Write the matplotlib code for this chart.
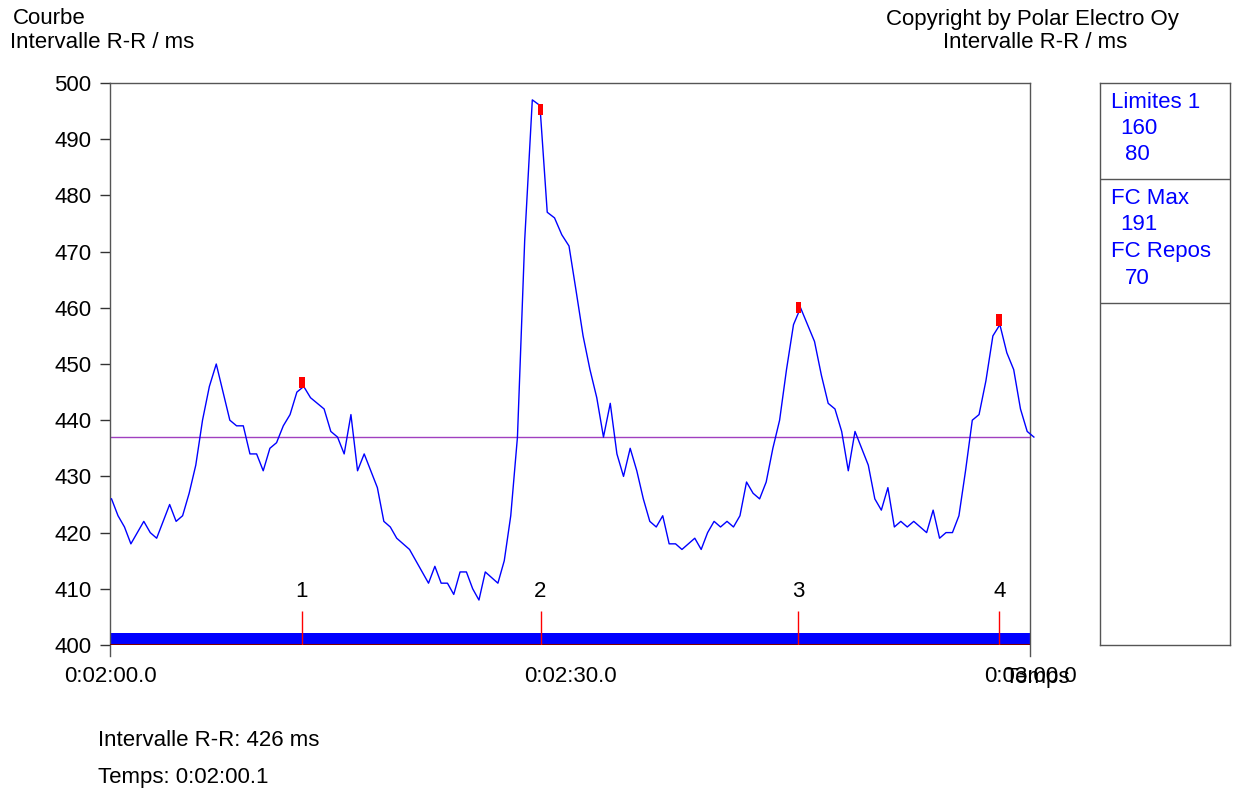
import numpy as np
import matplotlib
matplotlib.use("Agg")
import matplotlib.pyplot as plt
from matplotlib.ticker import FuncFormatter

plt.rcParams['font.family'] = ['Liberation Sans', 'DejaVu Sans']
FS = 16

# R-R intervals (ms), one per beat
rr_ms = [426, 423, 421, 418, 420, 422, 420, 419, 422, 425,
         422, 423, 427, 432, 440, 446, 450, 445, 440, 439,
         439, 434, 434, 431, 435, 436, 439, 441, 445, 446,
         444, 443, 442, 438, 437, 434, 441, 431, 434, 431,
         428, 422, 421, 419, 418, 417, 415, 413, 411, 414,
         411, 411, 409, 413, 413, 410, 408, 413, 412, 411,
         415, 423, 437, 472, 497, 496, 477, 476, 473, 471,
         463, 455, 449, 444, 437, 443, 434, 430, 435, 431,
         426, 422, 421, 423, 418, 418, 417, 418, 419, 417,
         420, 422, 421, 422, 421, 423, 429, 427, 426, 429,
         435, 440, 449, 457, 460, 457, 454, 448, 443, 442,
         438, 431, 438, 435, 432, 426, 424, 428, 421, 422,
         421, 422, 421, 420, 424, 419, 420, 420, 423, 431,
         440, 441, 447, 455, 457, 452, 449, 442, 438, 437]
start_s = 120.1          # time of first beat (0:02:00.1)
lap_times = [132.5, 148.08, 164.9, 178.0]
lap_labels = ['1', '2', '3', '4']
ref_line = 437
x_range = (120, 180)
x_ticks = [120, 150, 180]
y_range = (400, 500)
panel_lines = [('Limites 1', 0), ('160', 1), ('80', 2)]
panel_lines2 = [('FC Max', 0), ('191', 1), ('FC Repos', 0), ('70', 2)]

rr = np.array(rr_ms, dtype=float)
t = start_s + np.concatenate([[0], np.cumsum(rr[1:])]) / 1000.0


def fmt_time(s, pos=None):
    h = int(s // 3600)
    m = int(s % 3600 // 60)
    return f"{h}:{m:02d}:{s % 60:04.1f}"


fig = plt.figure(figsize=(12.35, 7.91), dpi=100)
ax = fig.add_axes([110 / 1235, 146 / 791, 920 / 1235, 562 / 791])

ax.fill_between(x_range, 400, 402.1, color='#0000ff', lw=0, zorder=2)
ax.axhline(400, color='#800000', lw=1.5, zorder=3)
ax.axhline(ref_line, color='#a040c0', lw=1, zorder=2)
ax.plot(t, rr, color='#0000ff', lw=1, zorder=4, clip_on=False)

# lap markers
ax.vlines(lap_times, 400, 406, color='#ff0000', lw=1, zorder=3)
for lt, lab in zip(lap_times, lap_labels):
    ax.text(lt, 409.5, lab, ha='center', va='center', fontsize=FS)
lap_vals = np.interp(lap_times, t, rr)
ax.bar(lap_times, 2.0, bottom=lap_vals, width=0.38, color='#ff0000', zorder=5)

ax.set_xlim(*x_range)
ax.set_ylim(*y_range)
ax.set_yticks(np.arange(400, 501, 10))
ax.set_xticks(x_ticks)
ax.xaxis.set_major_formatter(FuncFormatter(fmt_time))
ax.tick_params(axis='y', direction='out', length=7.2, width=1, pad=6,
               labelsize=FS, color='#333333')
ax.tick_params(axis='x', length=0, pad=15, labelsize=FS)

for side in ['left', 'right', 'top']:
    ax.spines[side].set_color('#555555')
    ax.spines[side].set_linewidth(1)
ax.spines['bottom'].set_visible(False)
ax.spines['left'].set_bounds(398, 500)
ax.spines['right'].set_bounds(398, 500)

# header / footer texts
fig.text(13 / 1235, 1 - 19 / 791, 'Courbe', fontsize=FS, va='center')
fig.text(10 / 1235, 1 - 42 / 791, 'Intervalle R-R / ms', fontsize=FS, va='center')
fig.text(1032 / 1235, 1 - 19 / 791, 'Copyright by Polar Electro Oy', fontsize=FS,
         va='center', ha='center')
fig.text(1035 / 1235, 1 - 42 / 791, 'Intervalle R-R / ms', fontsize=FS,
         va='center', ha='center')
fig.text(1037 / 1235, 1 - 678 / 791, 'Temps', fontsize=FS, va='center', ha='center')
fig.text(98 / 1235, 1 - 740 / 791, f'Intervalle R-R: {rr_ms[0]} ms', fontsize=FS,
         va='center')
fig.text(98 / 1235, 1 - 777 / 791, f'Temps: {fmt_time(start_s)}', fontsize=FS,
         va='center')

# side panel
pax = fig.add_axes([1100 / 1235, 146 / 791, 130 / 1235, 562 / 791])
pax.set_xlim(0, 130)
pax.set_ylim(562, 0)
pax.set_xticks([])
pax.set_yticks([])
for sp in pax.spines.values():
    sp.set_color('#555555')
    sp.set_linewidth(1)
pax.axhline(96, color='#555555', lw=1)
pax.axhline(220, color='#555555', lw=1)
indent = [11, 20, 25]
for i, (txt, lvl) in enumerate(panel_lines):
    pax.text(indent[lvl], 19 + i * 26.5, txt, color='#0000ff', fontsize=FS, va='center')
for i, (txt, lvl) in enumerate(panel_lines2):
    pax.text(indent[lvl], 115 + i * 27, txt, color='#0000ff', fontsize=FS, va='center')

fig.savefig('out.png', dpi=100)
